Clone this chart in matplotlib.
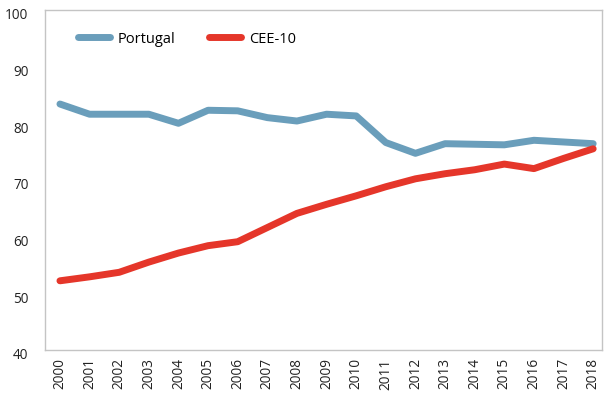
import matplotlib
matplotlib.use("Agg")
import matplotlib.pyplot as plt
import matplotlib.transforms as mtransforms

years = [str(y) for y in range(2000, 2019)]
portugal = [83.4, 81.6, 81.6, 81.6, 80.0, 82.3, 82.2, 81.0, 80.4, 81.6, 81.3,
            76.6, 74.7, 76.4, 76.3, 76.2, 77.0, 76.7, 76.4]
cee10 = [52.2, 52.9, 53.7, 55.5, 57.1, 58.4, 59.1, 61.6, 64.1, 65.7, 67.2,
         68.8, 70.2, 71.1, 71.8, 72.8, 72.0, 73.8, 75.5]
series_names = ["Portugal", "CEE-10"]
yticks = [40, 50, 60, 70, 80, 90, 100]

plt.rcParams['font.family'] = ['Open Sans', 'DejaVu Sans']

fig = plt.figure(figsize=(6.10, 3.99), dpi=100)
ax = fig.add_axes([0.074, 0.123, 0.913, 0.852])

x = list(range(len(years)))
ax.plot(x, portugal, color='#6a9ebb', lw=5, solid_capstyle='round', solid_joinstyle='round', label=series_names[0])
ax.plot(x, cee10, color='#e5362a', lw=5, solid_capstyle='round', solid_joinstyle='round', label=series_names[1])

ax.set_xlim(-0.5, 18.3)
ax.set_ylim(40, 100)
ax.set_yticks(yticks)
ax.set_yticklabels([str(v) for v in yticks], fontsize=9.8, color='#222222')
ax.set_xticks(x)
ax.set_xticklabels(years, rotation=90, fontsize=9.8, color='#222222')
ax.tick_params(axis='both', length=0)
ax.tick_params(axis='x', pad=6)
ax.tick_params(axis='y', pad=12)

offset = mtransforms.ScaledTranslation(0, -4/100, fig.dpi_scale_trans)
for lbl in ax.get_yticklabels():
    lbl.set_transform(lbl.get_transform() + offset)

for s in ax.spines.values():
    s.set_color('#c4c4c4')
    s.set_linewidth(1)

ax.legend(loc='upper left', bbox_to_anchor=(0.035, 0.975), ncol=2, frameon=False,
          fontsize=10.5, handlelength=2.2, handletextpad=0.55, columnspacing=2.3)

fig.savefig("out.png", dpi=100)
